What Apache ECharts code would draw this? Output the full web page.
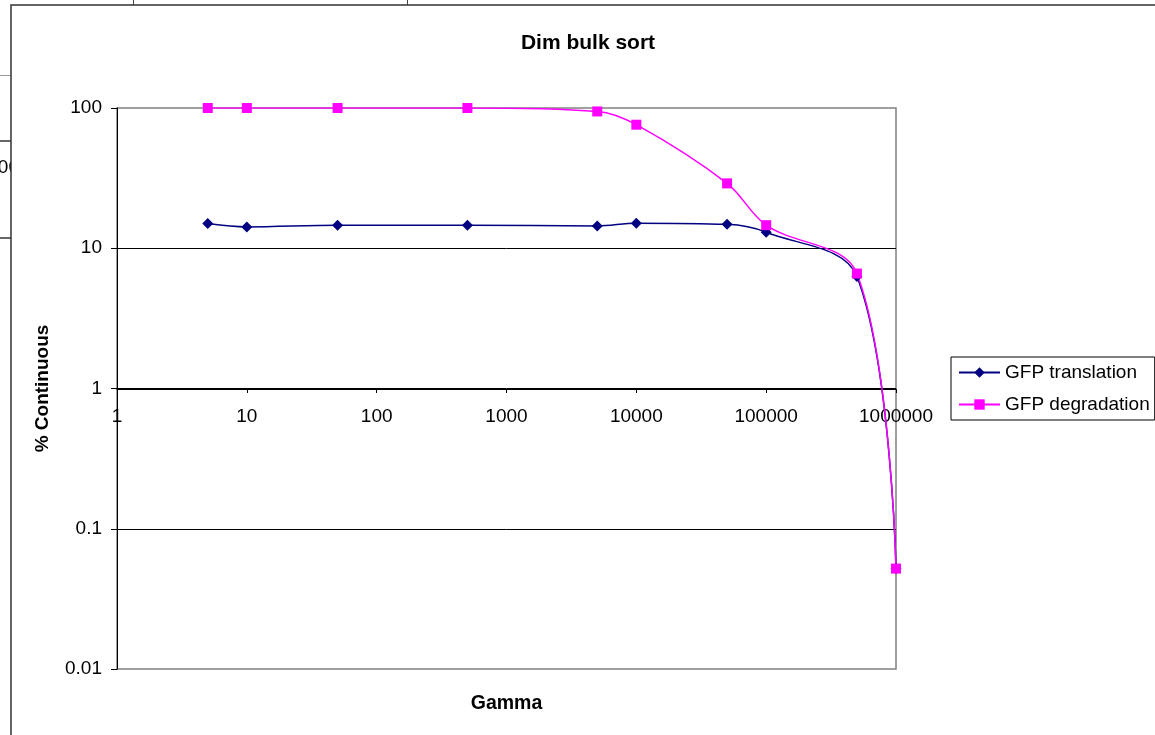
<!DOCTYPE html>
<html>
<head>
<meta charset="utf-8">
<title>Dim bulk sort</title>
<script src="https://cdn.jsdelivr.net/npm/echarts@6/dist/echarts.min.js"></script>
<style>
  html, body { margin: 0; padding: 0; background: #fff; }
  #chart { width: 1155px; height: 735px; }
</style>
</head>
<body>
<div id="chart"></div>
<script>
// Gamma dose (x) and percent continuous (y) for the two reporter constructs
const gamma = [5, 10, 50, 500, 5000, 10000, 50000, 100000, 500000, 1000000];
const gfpTranslation = [15.0, 14.2, 14.6, 14.6, 14.4, 15.1, 14.8, 13.0, 6.3, 0.052];
const gfpDegradation = [100, 100, 100, 100, 94.5, 76, 29, 14.6, 6.6, 0.052];
const seriesNames = ['GFP translation', 'GFP degradation'];

const FONT = '"Liberation Sans", Arial, sans-serif';

function pairs(xs, ys) {
  return xs.map((x, i) => [x, ys[i]]);
}
function logLabel(v) {
  return String(Number(Number(v).toPrecision(6)));
}

const chart = echarts.init(document.getElementById('chart'), null, { renderer: 'canvas' });

chart.setOption({
  animation: false,
  backgroundColor: '#ffffff',
  textStyle: { fontFamily: FONT, color: '#000' },
  title: {
    text: 'Dim bulk sort',
    left: 588,
    textAlign: 'center',
    top: 33,
    padding: 0,
    textStyle: { fontFamily: FONT, fontSize: 21, fontWeight: 'bold', color: '#000' }
  },
  graphic: [
    // worksheet cell lines around the embedded chart
    { type: 'line', z: -30, shape: { x1: 133.5, y1: 0, x2: 133.5, y2: 6 }, style: { stroke: '#444', lineWidth: 1 } },
    { type: 'line', z: -30, shape: { x1: 407.5, y1: 0, x2: 407.5, y2: 6 }, style: { stroke: '#444', lineWidth: 1 } },
    { type: 'line', z: -30, shape: { x1: 0, y1: 75.5, x2: 12, y2: 75.5 }, style: { stroke: '#999', lineWidth: 1 } },
    { type: 'line', z: -30, shape: { x1: 0, y1: 141, x2: 12, y2: 141 }, style: { stroke: '#333', lineWidth: 1.5 } },
    { type: 'line', z: -30, shape: { x1: 0, y1: 238, x2: 12, y2: 238 }, style: { stroke: '#333', lineWidth: 1.5 } },
    { type: 'text', z: -30, style: { text: '000', x: 19, y: 168, align: 'right', verticalAlign: 'middle',
        font: '19px "Liberation Sans", Arial, sans-serif', fill: '#000' } },
    // chart frame
    { type: 'rect', z: -20, shape: { x: 11, y: 5, width: 1400, height: 1000 },
      style: { fill: '#fff', stroke: '#333', lineWidth: 1.5 } }
  ],
  legend: {
    left: 951,
    top: 357,
    orient: 'vertical',
    data: seriesNames,
    itemWidth: 41,
    itemHeight: 13,
    itemGap: 13,
    padding: [6, 5, 6, 7],
    borderColor: '#000',
    borderWidth: 1,
    backgroundColor: '#fff',
    textStyle: { fontFamily: FONT, fontSize: 19, color: '#000', lineHeight: 19 }
  },
  grid: {
    left: 117,
    top: 108,
    width: 779,
    height: 561,
    show: true,
    borderColor: '#808080',
    borderWidth: 1.5,
    backgroundColor: 'transparent'
  },
  xAxis: {
    type: 'log',
    logBase: 10,
    min: 1,
    max: 1000000,
    offset: -280,
    name: 'Gamma',
    nameLocation: 'middle',
    nameGap: 305,
    nameTextStyle: { fontFamily: FONT, fontSize: 19.5, fontWeight: 'bold', color: '#000' },
    axisLine: { show: true, lineStyle: { color: '#000', width: 1 } },
    axisTick: { show: true, inside: false, length: 4, lineStyle: { color: '#000' } },
    axisLabel: { margin: 18, fontFamily: FONT, fontSize: 19, color: '#000', formatter: logLabel,
      showMinLabel: true, showMaxLabel: true },
    splitLine: { show: false },
    minorTick: { show: false }
  },
  yAxis: {
    type: 'log',
    logBase: 10,
    min: 0.01,
    max: 100,
    name: '% Continuous',
    nameLocation: 'middle',
    nameRotate: 90,
    nameGap: 65,
    nameTextStyle: { fontFamily: FONT, fontSize: 19, fontWeight: 'bold', color: '#000' },
    axisLine: { show: true, lineStyle: { color: '#000', width: 1 } },
    axisTick: { show: true, inside: false, length: 6, lineStyle: { color: '#000' } },
    axisLabel: { margin: 15, fontFamily: FONT, fontSize: 19, color: '#000', formatter: logLabel },
    splitLine: { show: true, showMinLine: false, showMaxLine: false, lineStyle: { color: '#000', width: 1 } }
  },
  series: [
    {
      name: seriesNames[0],
      type: 'line',
      data: pairs(gamma, gfpTranslation),
      smooth: 0.35,
      symbol: 'diamond',
      symbolSize: 11,
      itemStyle: { color: '#000080' },
      lineStyle: { color: '#000080', width: 1.5 }
    },
    {
      name: seriesNames[1],
      type: 'line',
      data: pairs(gamma, gfpDegradation),
      smooth: 0.35,
      symbol: 'rect',
      symbolSize: 10,
      itemStyle: { color: '#ff00ff' },
      lineStyle: { color: '#ff00ff', width: 1.5 }
    }
  ]
});
</script>
</body>
</html>
